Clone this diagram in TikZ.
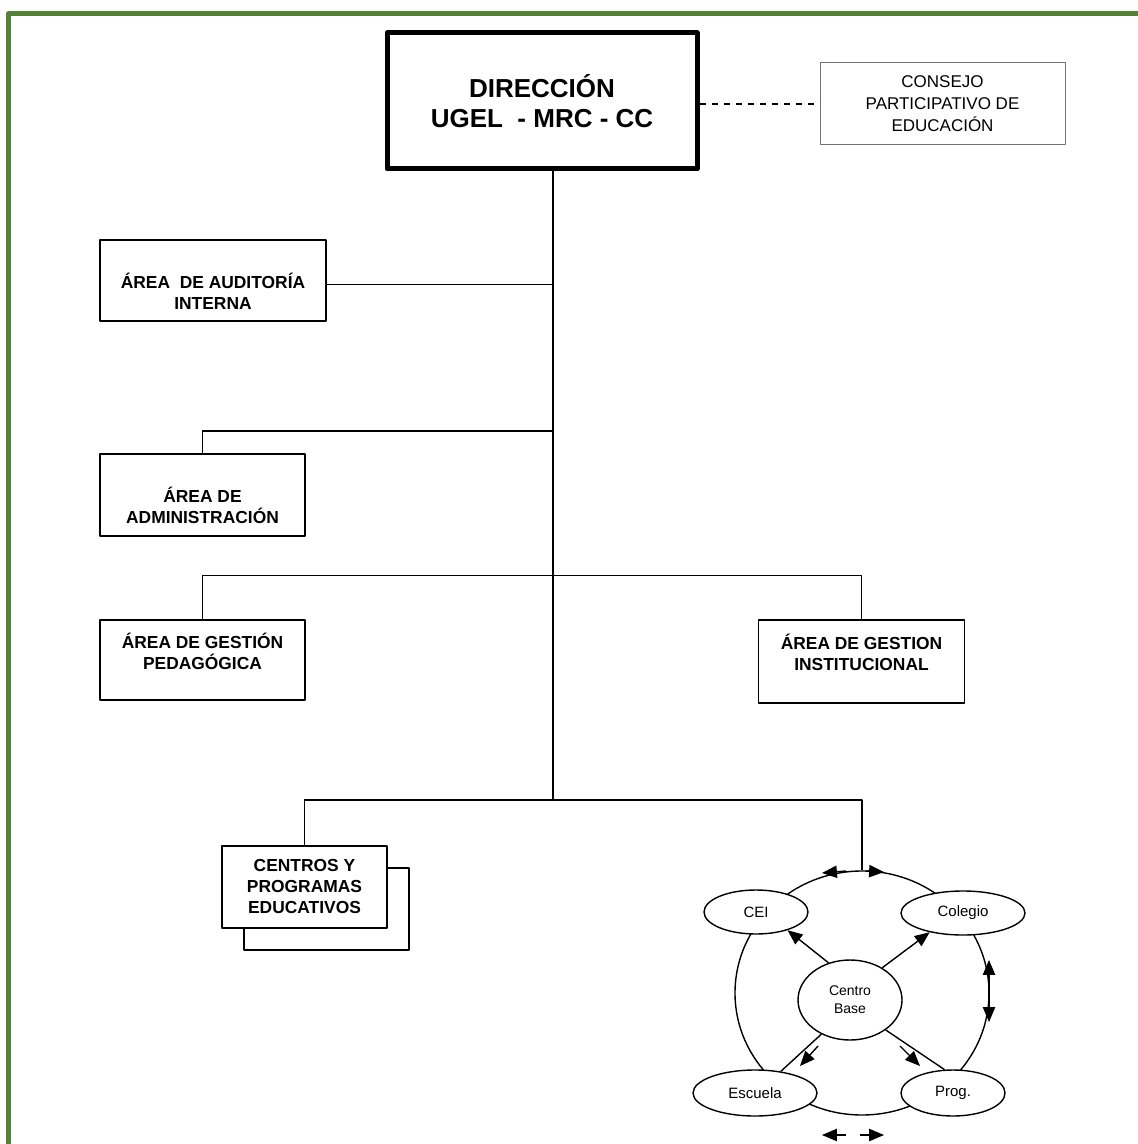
\documentclass[tikz,border=0pt]{standalone}
\usepackage{fontspec}
\setmainfont{Liberation Sans}
\usepackage{tikz}
\usetikzlibrary{arrows}
\usetikzlibrary{shapes.geometric}
\definecolor{marco}{rgb}{0.33,0.51,0.21}
\definecolor{gris}{rgb}{0.45,0.45,0.45}
\tikzset{
  caja/.style={draw,line width=0.8pt,fill=white,inner sep=0pt},
  etiqueta/.style={align=center,inner sep=0pt,font=\fontsize{8.7}{10.5}\selectfont\bfseries},
  ovalo/.style={ellipse,draw,line width=0.7pt,fill=white,inner sep=0pt,font=\fontsize{7.5}{9}\selectfont},
  linea/.style={line width=0.7pt}
}

\begin{document}
\begin{tikzpicture}[line join=round,>=triangle 45,x=0.5pt,y=-0.5pt]
\useasboundingbox (0,0) rectangle (1138,1144);
\draw[line width=2.5pt,color=marco] (8.5,1160) -- (8.5,13.5) -- (1150,13.5);

% direccion y consejo
\node[caja,line width=2.5pt,minimum width=155pt,minimum height=68pt,align=center,
  font=\fontsize{13}{15}\selectfont\bfseries] (dir) at (542,101) {DIRECCIÓN\\UGEL\ \ - MRC - CC};
\node[draw=gris,line width=0.5pt,fill=white,minimum width=122.5pt,minimum height=41pt,inner sep=0pt,
  align=center,font=\fontsize{8.5}{11}\selectfont] (consejo) at (942.5,104) {CONSEJO\\PARTICIPATIVO DE\\EDUCACIÓN};

% areas
\node[caja,minimum width=113pt,minimum height=40.5pt,
  label={[etiqueta,yshift=-5.5pt]center:ÁREA\ \ DE AUDITORÍA\\INTERNA}] (audit) at (213,280.5) {};
\node[caja,minimum width=102.5pt,minimum height=41pt,
  label={[etiqueta,yshift=-5pt]center:ÁREA DE\\ADMINISTRACIÓN}] (admin) at (202.5,495) {};
\node[caja,minimum width=102.5pt,minimum height=40pt,
  label={[etiqueta,yshift=4.5pt]center:ÁREA DE GESTIÓN\\PEDAGÓGICA}] (pedag) at (202.5,660) {};
\node[caja,minimum width=103pt,minimum height=41.5pt,
  label={[etiqueta,yshift=4.5pt]center:ÁREA DE GESTION\\INSTITUCIONAL}] (instit) at (861.5,661.5) {};

% centros
\node[caja,minimum width=82.5pt,minimum height=41pt] (sombra) at (326.5,909) {};
\node[caja,minimum width=82.5pt,minimum height=41pt,
  label={[etiqueta]center:CENTROS Y\\PROGRAMAS\\EDUCATIVOS}] (centros) at (304.5,887) {};

% red de centros
\node[ellipse,draw,linea,minimum width=127pt,minimum height=122pt,inner sep=0pt] (ring) at (862,993) {};
\node[ovalo,minimum width=52pt,minimum height=22pt] (cei) at (756,912) {CEI};
\node[ovalo,minimum width=62pt,minimum height=22pt] (colegio) at (963,913) {Colegio};
\node[ovalo,minimum width=62pt,minimum height=23pt] (escuela) at (755,1093) {Escuela};
\node[ovalo,minimum width=52pt,minimum height=23pt] (prog) at (953,1093) {Prog.};
\node[ovalo,minimum width=52pt,minimum height=40pt,font=\fontsize{7}{9}\selectfont,align=center] (cb) at (850,1000) {Centro\\Base};

\draw[->,linea] (cb.120) -- (cei.-30);
\draw[->,linea] (cb.45) -- (colegio.210);
\draw[linea] (cb.230) -- (escuela.40);
\draw[linea] (cb.-40) -- (prog.110);
\draw[->,linea] (818,1046) -- (800,1066);
\draw[->,linea] (900,1046) -- (920,1066);
\draw[->,linea] (846,871) -- (822,873);
\draw[->,linea] (866,871) -- (884,872);
\draw[<->,linea] (989,960) -- (989,1022);
\draw[->,linea] (846,1135) -- (822,1135);
\draw[->,linea] (860,1135) -- (884,1135);

% conectores
\coordinate (trunk) at (553,800);
\coordinate (jadm) at (553,431);
\draw[linea,dashed] (consejo.west -| dir.east) -- (consejo.west);
\draw[linea] (dir.south -| trunk) -- (trunk);
\draw[linea] ([yshift=-2pt]audit.east) -- ([yshift=-2pt]audit.east -| trunk);
\draw[linea] (jadm) -| (admin.north);
\draw[linea] (pedag.north) -- ++(0,-44) -| (instit.north);
\draw[linea] (centros.north) |- (trunk) -| (ring.north);
\end{tikzpicture}
\end{document}
